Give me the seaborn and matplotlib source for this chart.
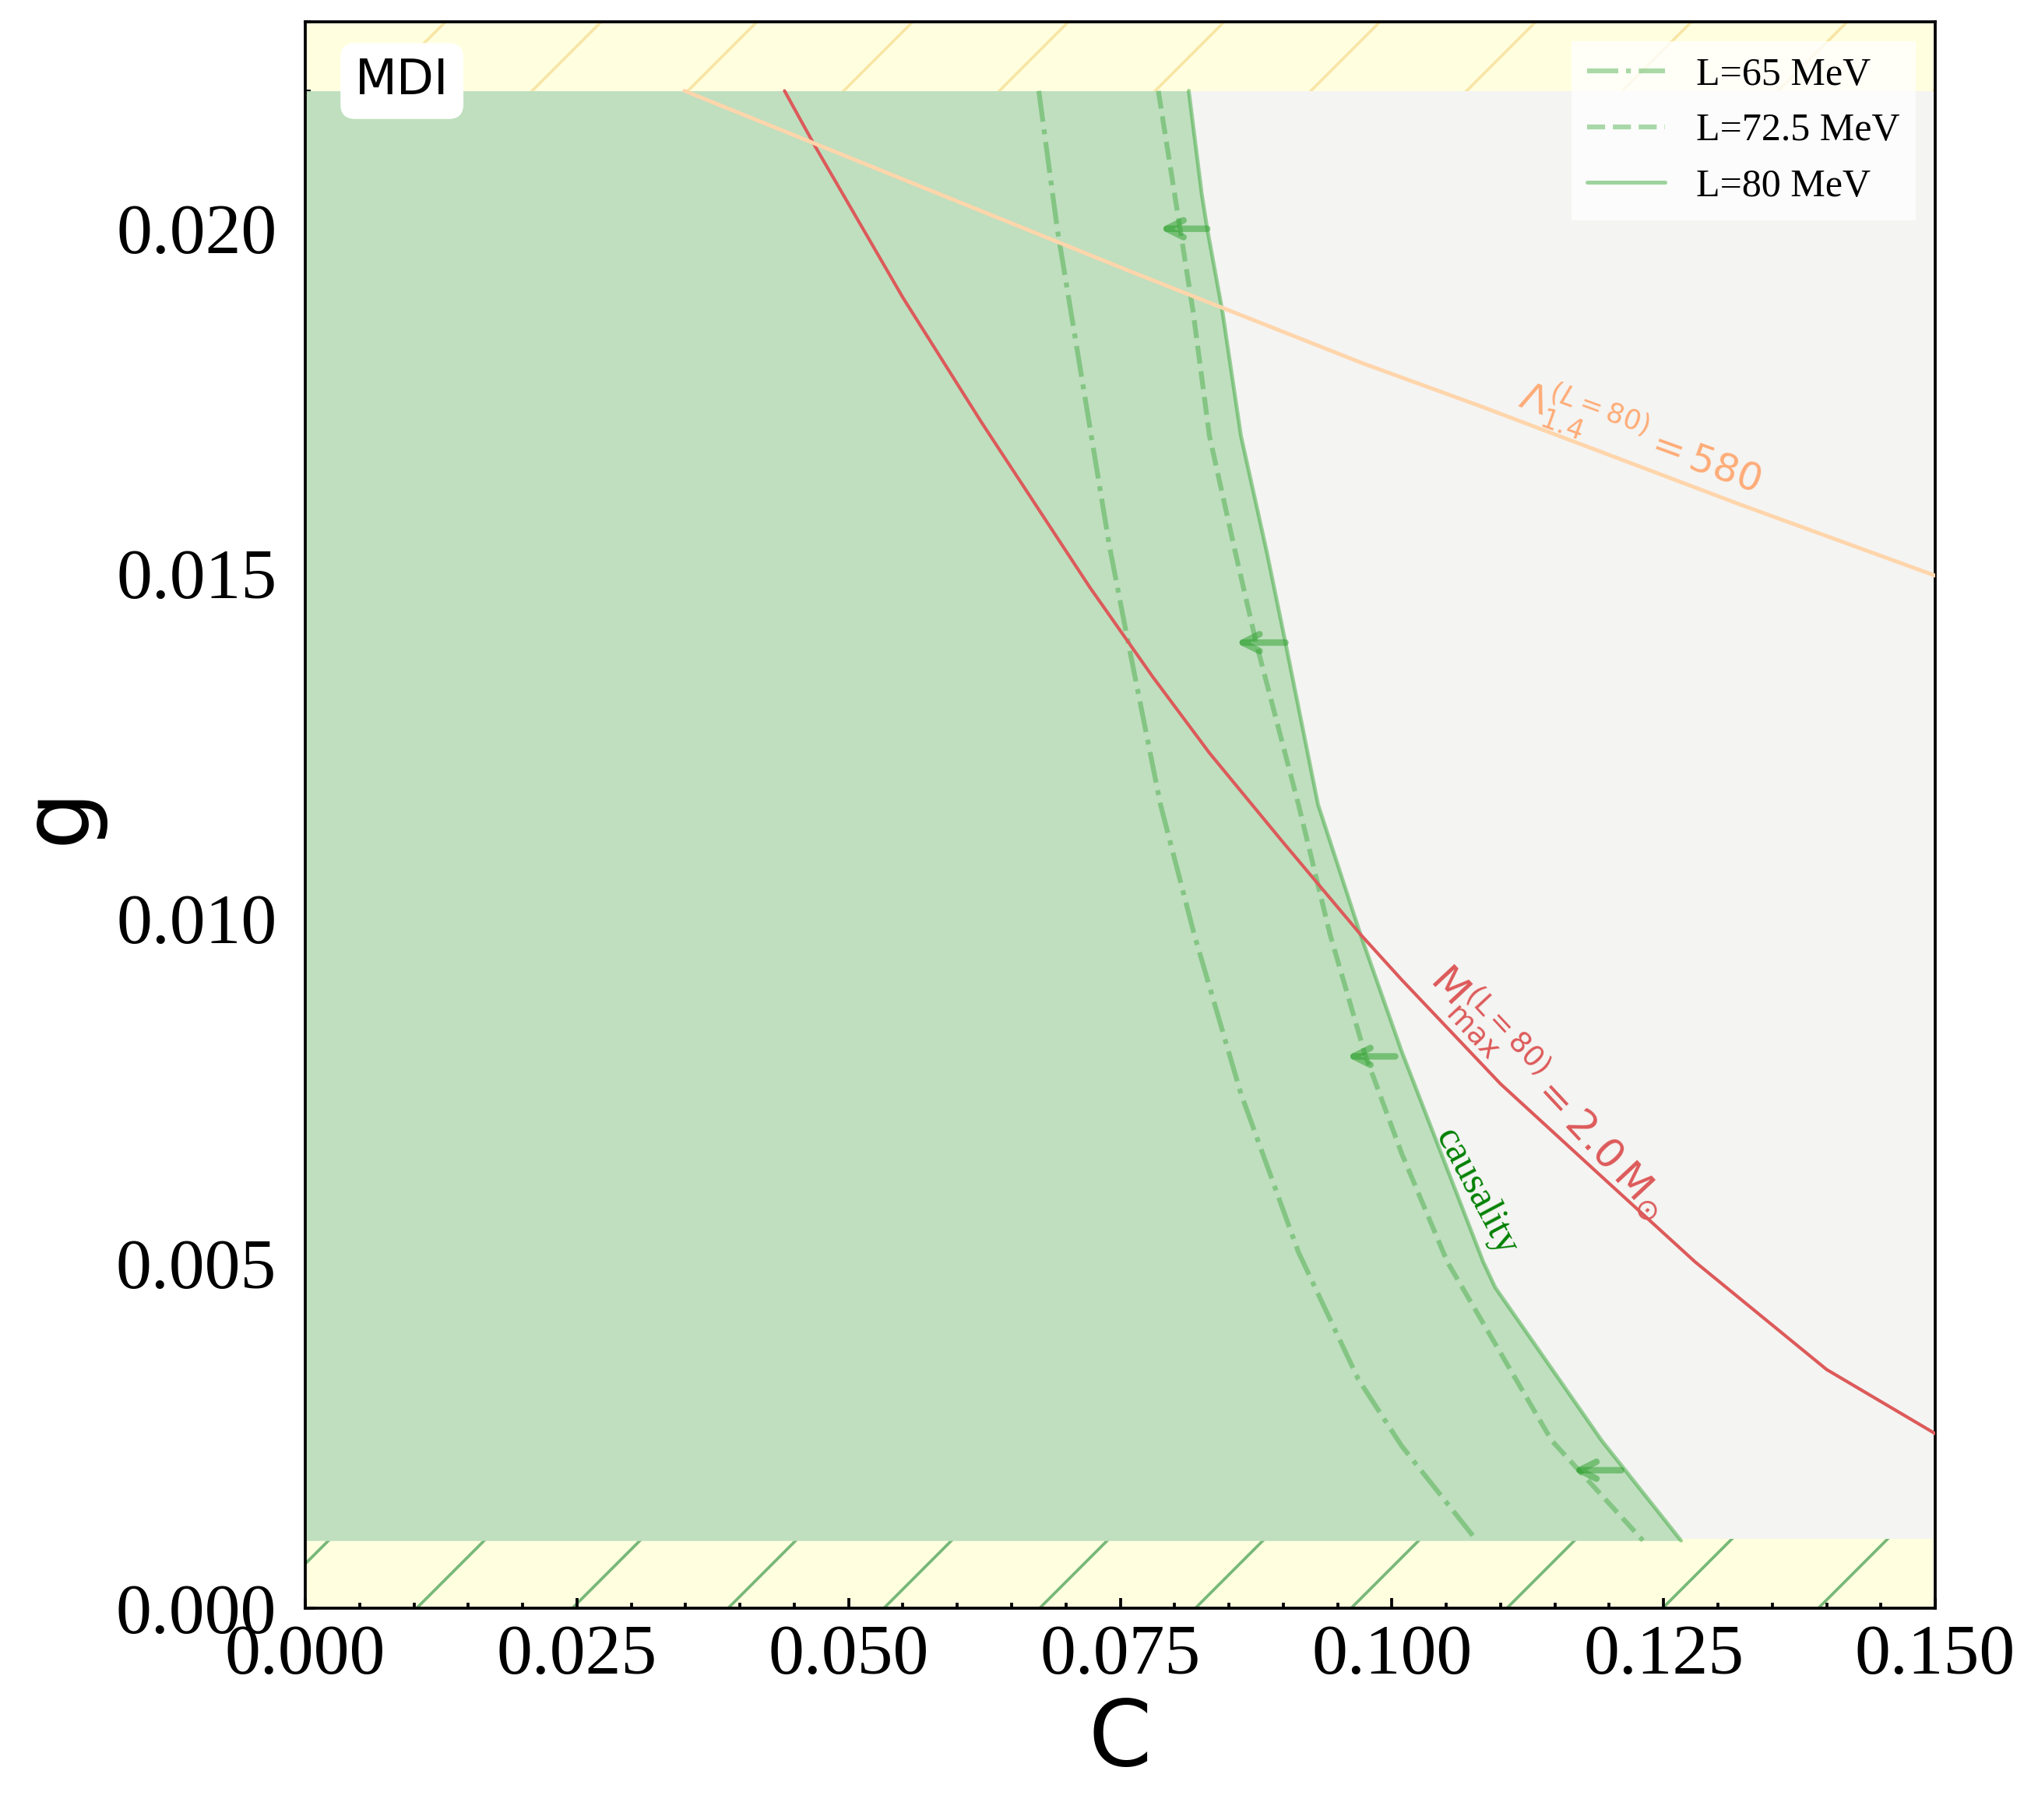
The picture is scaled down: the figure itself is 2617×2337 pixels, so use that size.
import numpy as np
import pandas as pd
import matplotlib.pyplot as plt
import seaborn as sns

# causality boundaries for three L values (g on the vertical axis, C horizontal)
g_l65 = [0.0220, 0.0200, 0.0177, 0.0154, 0.0141, 0.01165, 0.00977, 0.00746, 0.00516, 0.00332, 0.00235, 0.00098]
c_l65 = [0.0675, 0.0692, 0.0716, 0.0740, 0.0756, 0.0787, 0.0818, 0.0861, 0.0914, 0.0969, 0.1009, 0.1078]

g_l725 = [0.0220, 0.0205, 0.0200, 0.0188, 0.0170, 0.0153, 0.0140, 0.01165, 0.00977, 0.00804, 0.00659, 0.00502, 0.00243, 0.00098]
c_l725 = [0.0785, 0.0800, 0.0805, 0.0817, 0.0832, 0.0856, 0.0875, 0.0914, 0.0943, 0.0975, 0.1009, 0.1051, 0.1147, 0.1231]

g_l80 = [0.0220, 0.0205, 0.0200, 0.0188, 0.0170, 0.0153, 0.0140, 0.01165, 0.00977, 0.00807, 0.00502, 0.00465, 0.00243, 0.00098]
c_l80 = [0.0813, 0.0825, 0.0830, 0.0844, 0.0861, 0.0885, 0.0902, 0.0932, 0.0971, 0.1009, 0.1084, 0.1095, 0.1193, 0.1266]

# M_max = 2.0 Msun contour
c_mmax = [0.0441, 0.0469, 0.0550, 0.0622, 0.0722, 0.0780, 0.0832, 0.0900, 0.0971, 0.1009, 0.1100, 0.1190, 0.1279, 0.1400, 0.1500]
g_mmax = [0.0220, 0.0212, 0.0190, 0.0172, 0.0148, 0.0135, 0.0124, 0.0111, 0.00977, 0.00911, 0.0076, 0.0063, 0.00502, 0.00346, 0.00253]

# Lambda_1.4 = 580 contour
c_lam = [0.0349, 0.0758, 0.0973, 0.1081, 0.1319, 0.1500]
g_lam = [0.0220, 0.01939, 0.01805, 0.01743, 0.01601, 0.01497]

# arrows pointing into the allowed region
arrow_g = [0.020, 0.014, 0.008, 0.002]
arrow_from = [0.0830, 0.0902, 0.1003, 0.1211]
arrow_to = [0.0786, 0.0856, 0.0958, 0.1166]

g_low, g_high = 0.001, 0.022
legend_labels = ["L=65 MeV", "L=72.5 MeV", "L=80 MeV"]

sns.set_theme(style="ticks")
plt.rcParams.update({
    "font.family": ["DejaVu Sans"],
    "hatch.linewidth": 0.45,
    "axes.linewidth": 0.45,
    "axes.edgecolor": "black",
    "text.color": "black",
    "axes.labelcolor": "black",
    "xtick.color": "black",
    "ytick.color": "black",
    "xtick.labelcolor": "black",
    "ytick.labelcolor": "black",
})

fig = plt.figure(figsize=(2617 / 600, 2337 / 600), dpi=600)
ax = fig.add_axes([0.1498, 0.1164, 0.7998, 0.8716])

green = "#2ca02c"

# background bands
ax.axhspan(g_low, g_high, color="#f4f4f2", lw=0, zorder=0)
ax.axhspan(0, g_low, facecolor="#ffffe0", edgecolor="#78b878", hatch="/", lw=0, zorder=0)
ax.axhspan(g_high, 0.023, facecolor="#ffffe0", edgecolor="#f8e6a6", hatch="/", lw=0, zorder=0)

# allowed region
ax.fill_betweenx(g_l80, 0, c_l80, color="#bfdfbf", lw=0, zorder=1)

df65 = pd.DataFrame({"C": c_l65, "g": g_l65})
df725 = pd.DataFrame({"C": c_l725, "g": g_l725})
df80 = pd.DataFrame({"C": c_l80, "g": g_l80})

sns.lineplot(data=df65, x="C", y="g", sort=False, estimator=None, ax=ax,
             color=green, alpha=0.4, lw=0.75, linestyle="-.", zorder=3)
sns.lineplot(data=df725, x="C", y="g", sort=False, estimator=None, ax=ax,
             color=green, alpha=0.4, lw=0.75, linestyle="--", zorder=3)
sns.lineplot(data=df80, x="C", y="g", sort=False, estimator=None, ax=ax,
             color=green, alpha=0.45, lw=0.6, linestyle="-", zorder=3)
green_lines = ax.get_lines()[-3:]

sns.lineplot(x=c_mmax, y=g_mmax, sort=False, estimator=None, ax=ax,
             color="#dd5a5a", lw=0.5, zorder=4)
sns.lineplot(x=c_lam, y=g_lam, sort=False, estimator=None, ax=ax,
             color="#ffd5ab", lw=0.6, zorder=4)

for gy, c0, c1 in zip(arrow_g, arrow_from, arrow_to):
    ax.annotate("", xy=(c1, gy), xytext=(c0, gy),
                arrowprops=dict(arrowstyle="->", color=green, alpha=0.5, lw=1.0,
                                mutation_scale=6.5, shrinkA=0, shrinkB=0,
                                capstyle="round", joinstyle="round"),
                zorder=5)

# labels on curves
ax.text(0.1229, 0.01698, r"$\Lambda_{1.4}^{(L=80)}=580$", color="#ffac78",
        fontsize=6, rotation=-20, ha="center", va="center", zorder=6)
ax.text(0.1145, 0.00748, r"$\mathrm{M_{max}^{(L=80)}=2.0\,M_{\odot}}$", color="#dd5a5a",
        fontsize=6.3, rotation=-47, ha="center", va="center", zorder=6)
ax.text(0.1077, 0.00604, "causality", color="green", fontsize=6,
        family="Liberation Serif", rotation=-62, ha="center", va="center", zorder=6)

ax.text(0.0593, 0.9627, "MDI", transform=ax.transAxes, fontsize=7.5,
        ha="center", va="center", zorder=7,
        bbox=dict(boxstyle="round,pad=0.3", fc="white", ec="none"))

ax.legend(green_lines, legend_labels, loc="upper right",
          prop={"family": "Liberation Serif", "size": 6},
          frameon=True, fancybox=False, framealpha=0.8, edgecolor="none",
          facecolor="white", borderaxespad=0.5)

ax.set_xlim(0, 0.15)
ax.set_ylim(0, 0.023)
xt = np.arange(0, 0.1501, 0.025)
yt = np.arange(0, 0.0201, 0.005)
ax.set_xticks(xt, labels=[f"{v:.3f}" for v in xt], fontfamily="Liberation Serif", fontsize=11)
ax.set_yticks(yt, labels=[f"{v:.3f}" for v in yt], fontfamily="Liberation Serif", fontsize=11)
ax.set_xticks(np.arange(0, 0.1501, 0.005), minor=True)
ax.set_yticks(np.arange(0, 0.0231, 0.001), minor=True)
ax.tick_params(which="both", direction="in", width=0.45, color="black")
ax.tick_params(which="major", length=1.6)
ax.tick_params(which="minor", length=0.8)
ax.tick_params(axis="x", pad=2.5)
ax.tick_params(axis="y", pad=4.4)

ax.set_xlabel("C", fontsize=14, labelpad=1)
ax.set_ylabel("g", fontsize=14, labelpad=2)

fig.savefig("out.png", dpi=600)
